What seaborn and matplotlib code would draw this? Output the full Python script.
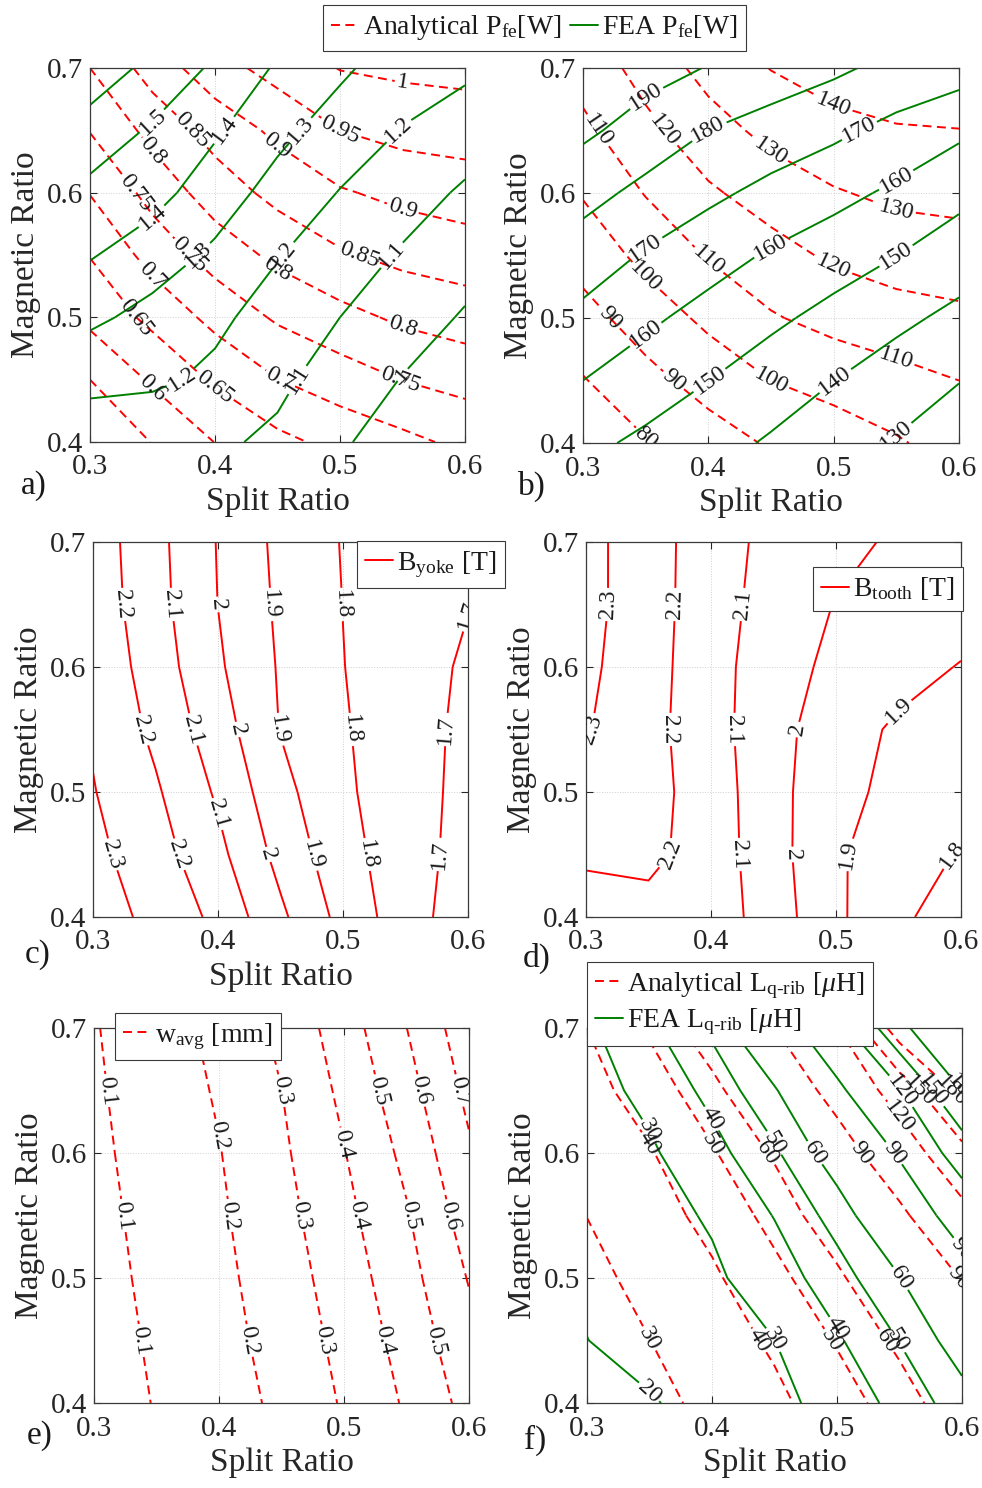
import numpy as np
import matplotlib
matplotlib.use("Agg")
import matplotlib.pyplot as plt
from matplotlib.lines import Line2D
import seaborn as sns

# ---------------- data ----------------
split_ratio = [0.30, 0.35, 0.40, 0.45, 0.50, 0.55, 0.60]
magnet_ratio = [0.40, 0.45, 0.50, 0.55, 0.60, 0.65, 0.70]

# a) iron loss [W]
pfe_analytical = [
    [0.502, 0.552, 0.601, 0.637, 0.665, 0.687, 0.712],
    [0.550, 0.607, 0.657, 0.699, 0.726, 0.751, 0.767],
    [0.613, 0.663, 0.715, 0.757, 0.784, 0.809, 0.824],
    [0.652, 0.719, 0.771, 0.812, 0.844, 0.864, 0.875],
    [0.702, 0.767, 0.824, 0.865, 0.895, 0.913, 0.925],
    [0.752, 0.816, 0.869, 0.911, 0.950, 0.967, 0.972],
    [0.800, 0.872, 0.930, 0.969, 1.002, 1.010, 1.015],
]
pfe_fea = [
    [1.140, 1.130, 1.115, 1.083, 1.013, 0.950, 0.890],
    [1.226, 1.217, 1.181, 1.119, 1.058, 0.996, 0.940],
    [1.320, 1.270, 1.219, 1.161, 1.100, 1.046, 0.991],
    [1.408, 1.347, 1.283, 1.205, 1.147, 1.090, 1.040],
    [1.475, 1.435, 1.346, 1.266, 1.196, 1.142, 1.087],
    [1.559, 1.488, 1.413, 1.325, 1.256, 1.196, 1.148],
    [1.660, 1.573, 1.484, 1.388, 1.317, 1.250, 1.220],
]
pfe_analytical_levels = [0.55, 0.6, 0.65, 0.7, 0.75, 0.8, 0.85, 0.9, 0.95, 1.0]
pfe_fea_levels = [1.0, 1.1, 1.2, 1.3, 1.4, 1.5, 1.6]
pfe_analytical_labelled = [0.6, 0.65, 0.7, 0.75, 0.8, 0.85, 0.9, 0.95, 1.0]
pfe_fea_labelled = [1.0, 1.1, 1.2, 1.3, 1.4, 1.5]

# b) second loss map [W]
b_analytical = [
    [73.0, 79.3, 85.5, 91.1, 95.0, 99.0, 104.0],
    [79.4, 87.0, 93.8, 100.0, 103.3, 106.6, 110.0],
    [86.6, 94.5, 102.2, 109.1, 113.3, 116.2, 117.9],
    [93.7, 102.8, 110.7, 116.5, 121.5, 124.4, 125.7],
    [100.8, 110.5, 118.6, 124.2, 129.2, 132.1, 133.0],
    [107.7, 117.5, 125.8, 132.9, 136.9, 139.2, 139.8],
    [114.0, 123.6, 133.5, 140.3, 144.5, 146.5, 146.5],
]
b_fea = [
    [152.4, 148.0, 143.5, 138.9, 134.1, 129.3, 124.0],
    [160.0, 155.0, 150.1, 145.0, 140.1, 135.2, 130.3],
    [167.6, 161.8, 156.7, 151.9, 147.1, 142.2, 137.6],
    [175.3, 169.0, 163.9, 158.9, 154.5, 150.1, 144.9],
    [183.3, 177.4, 172.1, 167.3, 163.0, 158.2, 152.6],
    [191.9, 185.9, 179.9, 175.9, 172.0, 167.1, 161.9],
    [197.4, 193.5, 189.6, 185.7, 181.8, 177.1, 174.4],
]
b_analytical_levels = [80, 90, 100, 110, 120, 130, 140]
b_fea_levels = [130, 140, 150, 160, 170, 180, 190]

# c) yoke flux density [T]
b_yoke = [
    [2.353, 2.270, 2.177, 2.019, 1.868, 1.744, 1.644],
    [2.325, 2.243, 2.126, 1.969, 1.836, 1.743, 1.664],
    [2.305, 2.213, 2.086, 1.931, 1.817, 1.742, 1.672],
    [2.289, 2.178, 2.047, 1.896, 1.809, 1.742, 1.677],
    [2.275, 2.152, 2.014, 1.890, 1.802, 1.743, 1.686],
    [2.260, 2.135, 1.999, 1.882, 1.799, 1.751, 1.703],
    [2.254, 2.129, 1.995, 1.874, 1.795, 1.750, 1.720],
]
b_yoke_levels = [1.7, 1.8, 1.9, 2.0, 2.1, 2.2, 2.3]

# d) tooth flux density [T]
b_tooth = [
    [2.165, 2.165, 2.155, 2.050, 1.917, 1.823, 1.736],
    [2.212, 2.225, 2.152, 2.038, 1.912, 1.848, 1.792],
    [2.259, 2.235, 2.150, 2.033, 1.927, 1.875, 1.845],
    [2.307, 2.232, 2.138, 2.035, 1.943, 1.885, 1.862],
    [2.321, 2.238, 2.139, 2.041, 1.977, 1.935, 1.895],
    [2.331, 2.243, 2.142, 2.059, 1.996, 1.970, 1.946],
    [2.330, 2.245, 2.143, 2.072, 2.028, 1.985, 1.965],
]
b_tooth_levels = [1.8, 1.9, 2.0, 2.1, 2.2, 2.3]

# e) average width [mm]
w_avg = [
    [0.061, 0.104, 0.158, 0.219, 0.310, 0.412, 0.533],
    [0.066, 0.111, 0.167, 0.235, 0.329, 0.437, 0.569],
    [0.071, 0.119, 0.176, 0.251, 0.349, 0.464, 0.606],
    [0.076, 0.127, 0.186, 0.267, 0.372, 0.491, 0.647],
    [0.082, 0.136, 0.196, 0.283, 0.396, 0.525, 0.686],
    [0.088, 0.145, 0.210, 0.299, 0.423, 0.562, 0.725],
    [0.094, 0.155, 0.226, 0.322, 0.452, 0.599, 0.763],
]
w_avg_levels = [0.1, 0.2, 0.3, 0.4, 0.5, 0.6, 0.7]

# f) q-axis rib inductance [uH]
lq_analytical = [
    [22.6, 27.1, 32.5, 37.8, 45.3, 54.9, 67.8],
    [24.9, 29.9, 35.4, 41.5, 50.8, 62.4, 78.5],
    [27.4, 32.8, 38.5, 47.0, 57.7, 73.5, 90.8],
    [30.1, 35.9, 42.9, 53.4, 67.8, 85.8, 111.5],
    [33.2, 39.2, 48.9, 61.4, 80.5, 104.3, 141.4],
    [36.5, 44.6, 56.3, 74.6, 97.1, 131.6, 188.6],
    [40.0, 51.4, 67.8, 89.8, 118.6, 195.0, 230.0],
]
lq_fea = [
    [18.0, 19.3, 23.1, 27.4, 33.5, 43.1, 55.4],
    [19.9, 23.1, 26.5, 29.9, 38.7, 50.3, 66.0],
    [21.4, 24.9, 28.4, 34.9, 45.5, 59.5, 80.3],
    [23.0, 26.7, 31.0, 40.4, 54.0, 74.1, 101.0],
    [24.7, 28.7, 36.4, 48.3, 66.6, 92.2, 132.9],
    [26.5, 32.4, 42.9, 58.6, 85.2, 117.4, 180.0],
    [28.3, 38.0, 52.1, 77.7, 108.5, 171.8, 220.0],
]
lq_levels = [20, 30, 40, 50, 60, 90, 120, 150, 180]

x_ticks = [0.3, 0.4, 0.5, 0.6]
y_ticks = [0.4, 0.5, 0.6, 0.7]

# ---------------- style ----------------
sns.set_theme(style="white")
plt.rcParams["font.family"] = ["Liberation Serif", "DejaVu Serif"]
plt.rcParams["mathtext.fontset"] = "custom"
plt.rcParams["mathtext.rm"] = "Liberation Serif"
plt.rcParams["mathtext.it"] = "Liberation Serif:italic"
plt.rcParams["mathtext.bf"] = "Liberation Serif:bold"
plt.rcParams["lines.dashed_pattern"] = [4.6, 2.8]
plt.rcParams["axes.unicode_minus"] = False

RED = (1.0, 0.0, 0.0)
GREEN = (0.0, 0.5, 0.0)
DARK = "#262626"
LW = 1.4

W, H = 982, 1488
fig = plt.figure(figsize=(W / 100, H / 100), dpi=100)


def px_axes(left, top, right, bottom):
    return fig.add_axes([left / W, 1 - bottom / H, (right - left) / W, (bottom - top) / H])


S = np.array(split_ratio)
M = np.array(magnet_ratio)


def draw(ax, Z, levels, color, ls, bands, labelled=None):
    Z = np.array(Z)
    for r0, r1 in bands:
        cs = ax.contour(S, M[r0:r1 + 1], Z[r0:r1 + 1], levels=levels,
                        colors=[color], linewidths=LW, linestyles=ls)
        lv = [v for v in cs.levels if labelled is None or
              any(abs(v - t) < 1e-9 for t in labelled)]
        if lv:
            ax.clabel(cs, levels=lv, fmt="%g", fontsize=17, inline=True,
                      inline_spacing=2, colors="k")


def style_axes(ax, xlabel=True):
    ax.set_xlim(0.3, 0.6)
    ax.set_ylim(0.4, 0.7)
    ax.set_xticks(x_ticks)
    ax.set_yticks(y_ticks)
    ax.set_xticklabels([f"{v:g}" for v in x_ticks])
    ax.set_yticklabels([f"{v:g}" for v in y_ticks])
    ax.tick_params(direction="in", top=True, right=True, bottom=True, left=True,
                   length=5, width=0.8, color=DARK, labelsize=21,
                   labelcolor=DARK)
    ax.tick_params(axis="x", pad=9)
    ax.tick_params(axis="y", pad=5)
    ax.grid(True, linestyle=":", color="#cfcfcf", linewidth=0.7)
    ax.set_axisbelow(True)
    for sp in ax.spines.values():
        sp.set_color("#3a3a3a")
        sp.set_linewidth(0.9)
    if xlabel:
        ax.set_xlabel("Split Ratio", fontsize=24, color=DARK, labelpad=4)
    ax.set_ylabel("Magnetic Ratio", fontsize=24, color=DARK, labelpad=4)
    ax.set_facecolor("white")


bands3 = [(0, 2), (2, 4), (4, 6)]
bands2 = [(0, 3), (3, 6)]

ax_a = px_axes(90, 68, 465, 442)
ax_b = px_axes(583, 68, 959, 443)
ax_c = px_axes(93, 542, 468, 917)
ax_d = px_axes(586, 542, 961, 917)
ax_e = px_axes(94, 1028, 469, 1403)
ax_f = px_axes(587, 1028, 962, 1403)

for ax in (ax_a, ax_b, ax_c, ax_e, ax_f):
    style_axes(ax)
style_axes(ax_d, xlabel=False)

draw(ax_a, pfe_analytical, pfe_analytical_levels, RED, "dashed", bands3,
     pfe_analytical_labelled)
draw(ax_a, pfe_fea, pfe_fea_levels, GREEN, "solid", bands3, pfe_fea_labelled)
draw(ax_b, b_analytical, b_analytical_levels, RED, "dashed", bands3)
draw(ax_b, b_fea, b_fea_levels, GREEN, "solid", bands3)
draw(ax_c, b_yoke, b_yoke_levels, RED, "solid", bands3)
draw(ax_d, b_tooth, b_tooth_levels, RED, "solid", bands3)
draw(ax_e, w_avg, w_avg_levels, RED, "dashed", bands3)
draw(ax_f, lq_analytical, lq_levels, RED, "dashed", bands2)
draw(ax_f, lq_fea, lq_levels, GREEN, "solid", bands2)

# ---------------- legends ----------------
h_red_d = Line2D([], [], color=RED, ls="--", lw=LW)
h_red_s = Line2D([], [], color=RED, ls="-", lw=LW)
h_green = Line2D([], [], color=GREEN, ls="-", lw=LW)

leg_kw = dict(frameon=True, fancybox=False, edgecolor="#3a3a3a", framealpha=1.0,
              handlelength=1.0, handletextpad=0.15, borderaxespad=0.0,
              borderpad=0.3, labelcolor="k")


def fig_legend(handles, labels, left, top, fs, **kw):
    lg = fig.legend(handles, labels, loc="upper left",
                    bbox_to_anchor=(left / W, 1 - top / H), fontsize=fs,
                    **leg_kw, **kw)
    lg.get_frame().set_linewidth(0.8)
    return lg


fig_legend([h_red_d, h_green],
           [r"Analytical P$_{\mathrm{fe}}$[W]", r"FEA P$_{\mathrm{fe}}$[W]"],
           323, 5, 20, ncol=2, columnspacing=0.3)
fig_legend([h_red_s], [r"B$_{\mathrm{yoke}}$ [T]"], 357, 541, 20)
fig_legend([h_red_s], [r"B$_{\mathrm{tooth}}$ [T]"], 813, 567, 20)
fig_legend([h_red_d], [r"w$_{\mathrm{avg}}$ [mm]"], 115, 1013, 20)
fig_legend([h_red_d, h_green],
           [r"Analytical L$_{\text{q-rib}}$ [$\mu$H]",
            r"FEA L$_{\text{q-rib}}$ [$\mu$H]"],
           587, 962, 20, labelspacing=0.2)

# ---------------- panel letters ----------------
for txt, x, y in [("a)", 34, 486), ("b)", 532, 486), ("c)", 38, 955),
                  ("d)", 537, 958), ("e)", 40, 1436), ("f)", 535, 1440)]:
    fig.text(x / W, 1 - y / H, txt, fontsize=24, ha="center", va="center",
             color="k")

fig.savefig("out.png", dpi=100)
